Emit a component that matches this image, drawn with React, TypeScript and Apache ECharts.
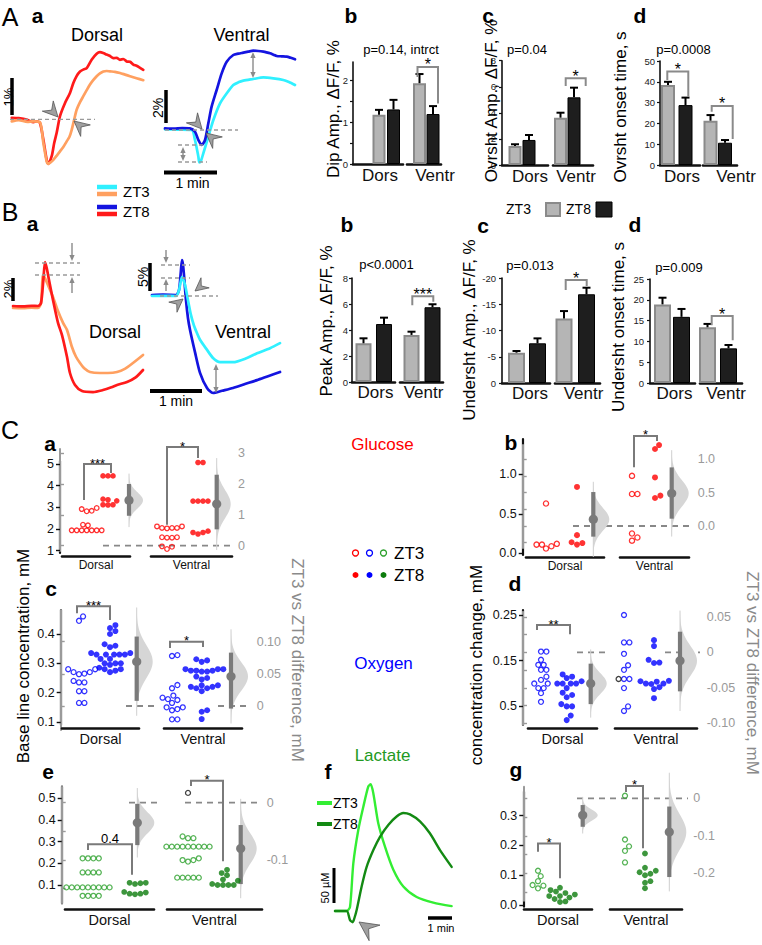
import React, { useEffect, useRef } from 'react';
import * as echarts from 'echarts';

const FF = '"Liberation Sans", Arial, Helvetica, sans-serif';

// ======================= DATA =======================
// A a — ΔF/F traces, [time (s), ΔF/F (%)]
const aDorsalZT8 = [[2,0.03],[10,0.02],[20,-0.02],[27,-0.08],[31,-0.06],[34.6,-0.1],[38.5,-0.52],[42.3,-1.02],[44.2,-1.12],[48.1,-0.93],[51,-0.6],[53.8,-0.35],[57.7,0.07],[63.5,0.4],[69.2,0.65],[73.1,0.9],[77,1.08],[80.8,1.19],[85,1.24],[88.5,1.27],[94.2,1.48],[100,1.63],[103.8,1.67],[107.5,1.65],[111.5,1.61],[115,1.58],[119.2,1.52],[123,1.53],[126.9,1.48],[130.8,1.5],[134.6,1.44],[138.5,1.43],[142.3,1.36],[146,1.33],[150,1.28],[153.8,1.23]];
const aDorsalZT3 = [[2,-0.06],[10,-0.03],[20,-0.07],[27,-0.06],[34.6,-0.08],[38.5,-0.6],[42.3,-1.06],[44.2,-1.12],[47,-1.08],[50,-1.02],[53.8,-0.92],[57.7,-0.81],[61.5,-0.7],[65.4,-0.56],[68.5,-0.45],[71.2,-0.27],[74,-0.02],[76.9,0.23],[80.8,0.42],[84.6,0.57],[88.5,0.72],[92.3,0.86],[96,0.97],[100,1.07],[103.8,1.14],[107.7,1.19],[111.5,1.2],[115.4,1.19],[121,1.18],[126.9,1.15],[132.7,1.11],[138.5,1.07],[146,1.02],[153.8,0.97]];
const aVentralZT8 = [[0,0.1],[10,0.08],[20,0.12],[28.8,0.1],[34.6,-0.1],[38.5,-0.6],[42.3,-0.9],[46.2,-0.6],[50,0.4],[53.8,1.4],[59.6,2.4],[65.4,3.4],[71.2,4.1],[78.8,4.5],[84.6,4.58],[90.4,4.64],[96,4.7],[101.9,4.76],[107.7,4.74],[113.5,4.7],[117,4.66],[121.2,4.6],[125,4.52],[128.8,4.44],[134.6,4.42],[140.4,4.4],[145,4.33],[150,4.24]];
const aVentralZT3 = [[0,0.04],[15,0.02],[30.8,0],[34.6,-0.6],[38.5,-1.6],[39.6,-1.94],[41.5,-1.85],[44.2,-1.4],[50,-0.4],[55.8,0.6],[63.5,1.6],[71.2,2.2],[78.8,2.7],[84.6,2.86],[90.4,2.96],[101.9,3.06],[113.5,3.16],[125,3.1],[136.5,3.0],[143,2.88],[150,2.7]];
// B a
const bDorsalZT8 = [[3.5,0.09],[15,0.05],[25,0.1],[32.3,0.09],[35.8,0.36],[38.5,2.5],[40.4,4.09],[42.5,3.5],[45,2.45],[49.6,0.64],[55.4,-1.45],[60,-2.55],[65.8,-4.55],[69.2,-6.0],[75,-7.09],[83.1,-7.64],[95.8,-7.73],[107.3,-7.55],[117,-7.3],[123.5,-7.09],[135,-6.82],[145,-6.4],[153.5,-5.73]];
const bDorsalZT3 = [[3.5,-0.09],[15,-0.1],[25,-0.05],[32.3,-0.09],[35.8,0.36],[38.1,2.91],[40.5,2.6],[43.8,2.0],[49.6,0.91],[55,-0.3],[61.2,-1.45],[65.8,-2.09],[71.5,-3.64],[76,-4.5],[80.8,-5.09],[86,-5.6],[92.3,-5.91],[103.8,-6.0],[113,-6.0],[123.5,-5.91],[133,-5.6],[141.9,-5.09],[153.5,-4.36]];
const bVentralZT8 = [[2.3,0],[15,0.05],[30,0],[33.5,0.89],[35.5,4],[36.9,6.25],[38,5.5],[39.2,3.57],[41.5,-0.89],[43.8,-4.11],[46.2,-6.25],[51.9,-10.2],[57.7,-13.9],[65.8,-16.6],[72.7,-17.5],[83.1,-17.1],[95.8,-16.6],[109.6,-15.9],[123.5,-15.2],[136.2,-14.5],[150,-13.75]];
const bVentralZT3 = [[2.3,-0.18],[15,-0.15],[30,-0.18],[33.5,0.89],[36.9,3.2],[40.4,1.8],[43.8,-0.9],[47.3,-3.6],[50.8,-5.5],[54.2,-6.8],[57.7,-8.0],[65.8,-9.8],[72.7,-11.25],[80.8,-12.0],[95.8,-12.0],[111.9,-11.25],[123.5,-10.4],[138.5,-9.5],[150,-8.6]];
// C f — lactate traces, [time (s), µM]
const fLactateZT3 = [[0,0],[30,0],[38.6,6],[47.1,68],[60,116],[72.9,149],[85.7,178],[91.7,181],[98.6,168],[111.4,125],[128.5,92],[150,59],[175.7,35],[210,20],[252.8,12],[300,7]];
const fLactateZT8 = [[0,0],[30,0],[38.6,-13],[45.4,-16],[50,-10],[55.7,1.4],[68.5,35],[81.4,63],[98.6,87],[115.7,106],[137,123],[158.5,135],[175.7,140],[192.8,138],[218.5,128],[244,111],[270,87],[300,63]];

// Bar charts — rows: [Dors, Ventr], columns: [ZT3, ZT8]
const barGroups = ['Dors', 'Ventr'];
const dipAmpMean = [[1.18, 1.31], [1.94, 1.2]];
const dipAmpSem = [[0.12, 0.23], [0.22, 0.19]];
const ovrshtAmpMean = [[1.46, 1.92], [3.63, 5.19]];
const ovrshtAmpSem = [[0.13, 0.38], [0.38, 0.74]];
const ovrshtOnsetMean = [[38.5, 28.8], [21.3, 10.7]];
const ovrshtOnsetSem = [[1.5, 3.6], [2.7, 1.3]];
const peakAmpMean = [[2.98, 4.46], [3.62, 5.75]];
const peakAmpSem = [[0.38, 0.49], [0.25, 0.23]];
const underAmpMean = [[-5.77, -7.56], [-12.3, -16.9]];
const underAmpSem = [[0.33, 0.94], [1.4, 1.25]];
const underOnsetMean = [[18.9, 15.9], [13.4, 8.33]];
const underOnsetSem = [[1.6, 1.9], [0.8, 0.8]];
const barPValues = ['p=0.14, intrct', 'p=0.04', 'p=0.0008', 'p<0.0001', 'p=0.013', 'p=0.009'];
const barYLabels = ['Dip Amp., ΔF/F, %', 'Ovrsht Amp., ΔF/F, %', 'Ovrsht onset time, s', 'Peak Amp., ΔF/F, %', 'Undersht Amp., ΔF/F, %', 'Undersht onset time, s'];
const dipTicks = [0, 0.5, 1, 1.5, 2];
const dipTickLabels = [0, 1, 2];
const ampTicks8 = [0, 2, 4, 6, 8];
const onsetTicks50 = [0, 10, 20, 30, 40, 50];
const underAmpTicks = [0, -5, -10, -15, -20];
const onsetTicks25 = [0, 5, 10, 15, 20, 25];

// C — concentrations (mM)
const regionNames = ['Dorsal', 'Ventral'];
const glucoseBaseDorsalZT3 = [2.97, 2.92, 2.84, 2.82, 2.2, 2.17, 1.94, 1.94, 1.94, 1.94, 1.94, 1.94, 1.94];
const glucoseBaseDorsalZT8 = [4.45, 4.45, 4.45, 3.38, 3.35, 3.3, 3.12, 3.12, 3.11];
const glucoseBaseVentralZT3 = [2.12, 2.12, 2.05, 2.05, 2.05, 2.03, 1.62, 1.62, 1.6, 1.6, 1.2, 1.18, 1.08];
const glucoseBaseVentralZT8 = [5.07, 5.07, 3.29, 3.29, 3.29, 3.29, 1.9, 1.84, 1.77, 1.84];
const glucoseBaseDiff = [[1.47, 0.97, 2.0], [1.35, 0.53, 2.3]]; // [mean, CI low, CI high]
const glucoseChgDorsalZT3 = [0.63, 0.12, 0.11, 0.11, 0.09, 0.06];
const glucoseChgDorsalZT8 = [0.84, 0.23, 0.14, 0.13, 0.11];
const glucoseChgVentralZT3 = [0.98, 0.75, 0.75, 0.25, 0.2, 0.16];
const glucoseChgVentralZT8 = [1.37, 1.32, 0.96, 0.73, 0.7];
const glucoseChgDiff = [[0.1, -0.16, 0.51], [0.49, 0.11, 0.88]];
const o2BaseDorsalZT3 = [0.46, 0.445, 0.28, 0.28, 0.27, 0.27, 0.265, 0.263, 0.24, 0.235, 0.235, 0.205, 0.205, 0.165, 0.165];
const o2BaseDorsalZT8 = [0.43, 0.42, 0.41, 0.4, 0.365, 0.36, 0.355, 0.335, 0.335, 0.33, 0.33, 0.33, 0.33, 0.33, 0.315, 0.315, 0.3, 0.295, 0.3, 0.3, 0.285, 0.275, 0.27, 0.28, 0.28];
const o2BaseVentralZT3 = [0.328, 0.325, 0.226, 0.215, 0.19, 0.183, 0.178, 0.175, 0.165, 0.15, 0.15, 0.144, 0.14, 0.109, 0.109];
const o2BaseVentralZT8 = [0.314, 0.31, 0.305, 0.28, 0.28, 0.275, 0.275, 0.272, 0.272, 0.275, 0.28, 0.255, 0.25, 0.245, 0.225, 0.22, 0.215, 0.215, 0.22, 0.225, 0.205, 0.14, 0.135, 0.11];
const o2BaseDiff = [[0.069, 0.008, 0.108], [0.046, -0.004, 0.083]];
const o2ChgDorsalZT3 = [0.17, 0.17, 0.152, 0.141, 0.141, 0.13, 0.13, 0.115, 0.108, 0.1, 0.1, 0.09, 0.09, 0.079, 0.06];
const o2ChgDorsalZT8 = [0.12, 0.115, 0.112, 0.105, 0.1, 0.1, 0.1, 0.1, 0.09, 0.08, 0.075, 0.07, 0.055, 0.05, 0.05, 0.03, 0.02];
const o2ChgVentralZT3 = [0.25, 0.19, 0.19, 0.165, 0.14, 0.13, 0.11, 0.11, 0.09, 0.05, 0.04];
const o2ChgVentralZT3Outlier = [0.11];
const o2ChgVentralZT8 = [0.195, 0.182, 0.152, 0.146, 0.145, 0.106, 0.105, 0.104, 0.1, 0.1, 0.099, 0.092, 0.088, 0.068];
const o2ChgDiff = [[-0.044, -0.073, -0.016], [-0.012, -0.055, 0.029]];
const lacBaseDorsalZT3 = [0.223, 0.223, 0.223, 0.223, 0.158, 0.158, 0.158, 0.158, 0.089, 0.089, 0.089, 0.089, 0.089, 0.089, 0.089, 0.089, 0.089, 0.05, 0.05, 0.05, 0.05];
const lacBaseDorsalZT8 = [0.11, 0.11, 0.108, 0.105, 0.065, 0.06, 0.057, 0.06, 0.068];
const lacBaseVentralZT3 = [0.324, 0.316, 0.316, 0.277, 0.277, 0.277, 0.277, 0.277, 0.277, 0.277, 0.277, 0.277, 0.223, 0.215, 0.215, 0.208, 0.134, 0.134, 0.134, 0.134, 0.134];
const lacBaseVentralZT3Outlier = [0.525];
const lacBaseVentralZT8 = [0.17, 0.155, 0.145, 0.125, 0.12, 0.105, 0.1, 0.1, 0.1, 0.1];
const lacBaseDiff = [[-0.035, -0.074, -0.002], [-0.08, -0.142, -0.039]];
const lacChgDorsalZT3 = [0.115, 0.097, 0.08, 0.067, 0.065, 0.056];
const lacChgDorsalZT8 = [0.058, 0.05, 0.045, 0.04, 0.035, 0.03, 0.03, 0.025, 0.02, 0.012, 0.01];
const lacChgVentralZT3 = [0.367, 0.22, 0.197, 0.182, 0.143];
const lacChgVentralZT8 = [0.173, 0.125, 0.115, 0.11, 0.105, 0.1, 0.08, 0.075, 0.056];
const lacChgDiff = [[-0.045, -0.076, -0.018], [-0.09, -0.21, -0.022]];

// C axis ticks and labels
const cTicks = {
  a: { main: [1, 2, 3, 4, 5], mainLab: ['1', '2', '3', '4', '5'], diff: [0, 1, 2, 3], diffLv: [0, 1, 2, 3], diffLab: ['0', '1', '2', '3'] },
  b: { main: [0, 0.5, 1], mainLab: ['0.0', '0.5', '1.0'], diff: [-0.25, 0, 0.25, 0.5, 0.75, 1], diffLv: [0, 0.5, 1], diffLab: ['0.0', '0.5', '1.0'] },
  c: { main: [0.1, 0.2, 0.3, 0.4], mainLab: ['0.1', '0.2', '0.3', '0.4'], diff: [0, 0.05, 0.1, 0.15], diffLv: [0, 0.05, 0.1, 0.15], diffLab: ['0', '0.05', '0.10', '0.15'] },
  d: { main: [0.05, 0.15, 0.25], mainLab: ['0.5', '0.15', '0.25'], diff: [-0.1, -0.075, -0.05, -0.025, 0, 0.025, 0.05], diffLv: [-0.1, -0.05, 0, 0.05], diffLab: ['-0.10', '-0.05', '0', '0.05'] },
  e: { main: [0.1, 0.2, 0.3, 0.4, 0.5], mainLab: ['0.1', '0.2', '0.3', '0.4', '0.5'], diff: [-0.15, -0.1, -0.05, 0], diffLv: [-0.1, 0], diffLab: ['-0.1', '0'] },
  g: { main: [0, 0.1, 0.2, 0.3], mainLab: ['0.0', '0.1', '0.2', '0.3'], diff: [-0.25, -0.2, -0.15, -0.1, -0.05, 0], diffLv: [-0.2, -0.1, 0], diffLab: ['-0.2', '-0.1', '0'] },
};

// ======================= STYLE =======================
const RED = '#ff0000', BLUE = '#0000ff', GREEN_O = '#2ca02c', GREEN_F = '#0c7c0c';
const T_RED = '#ff1a1a', T_ORANGE = '#ffa060', T_BLUE = '#1414e0', T_CYAN = '#30f0ff';
const BAR_GRAY = { color: '#b5b5b5', borderColor: '#8a8a8a', borderWidth: 2 };
const BAR_BLACK = { color: '#1e1e1e', borderColor: '#000', borderWidth: 1 };

// ======================= HELPERS =======================
const calK = (c: number[]) => (c[3] - c[1]) / (c[2] - c[0]);
const valAt = (c: number[], p: number) => c[0] + (p - c[1]) / calK(c);
const lab = (vals: number[], labels: any[], v: number) => {
  const i = vals.findIndex((t) => Math.abs(t - v) < 1e-7);
  return i >= 0 ? String(labels[i]) : '';
};

function swarmOffsets(values: number[], ppu: number, d: number) {
  const order = values.map((_, i) => i).sort((a, b) => values[a] - values[b]);
  const placed: number[][] = [];
  const out = new Array(values.length).fill(0);
  const step = d / 4;
  for (const i of order) {
    const y = values[i] * ppu;
    let chosen = 0;
    for (let s = 0; s < 600; s++) {
      const m = Math.ceil(s / 2);
      const x = s === 0 ? 0 : (s % 2 === 1 ? m : -m) * step;
      let ok = true;
      for (const p of placed) {
        const dx = x - p[0], dy = y - p[1];
        if (dx * dx + dy * dy < d * d - 1e-6) { ok = false; break; }
      }
      if (ok) { chosen = x; break; }
    }
    placed.push([chosen, y]);
    out[i] = chosen;
  }
  return out;
}

const bracketRenderer = (texts: string[], dys: number[], fontSize: number, color: string) => (params: any, api: any) => {
  const xa = api.value(0), xb = api.value(1), t = api.value(2), ya = api.value(3), yb = api.value(4);
  const p1 = api.coord([xa, ya]), p2 = api.coord([xa, t]), p3 = api.coord([xb, t]), p4 = api.coord([xb, yb]);
  const txt = texts[params.dataIndex];
  return {
    type: 'group',
    children: [
      { type: 'polyline', shape: { points: [p1, p2, p3, p4] }, style: { stroke: color, lineWidth: 2, fill: 'none' } },
      { type: 'text', x: (p2[0] + p3[0]) / 2, y: p2[1] - dys[params.dataIndex], style: { text: txt, font: `${fontSize}px ${FF}`, fill: '#000', align: 'center', verticalAlign: 'middle', textAlign: 'center', textVerticalAlign: 'middle' } },
    ],
  };
};

const violinRenderer = (widths: number[]) => (params: any, api: any) => {
  const x = api.value(0), m = api.value(1), lo = api.value(2), hi = api.value(3);
  const w = widths[params.dataIndex];
  const sd = Math.abs(hi - lo) / 3.92;
  const Z = 3.3, N = 48;
  const pts: number[][] = [];
  const cBot = api.coord([x, m - Z * sd]);
  const cTop = api.coord([x, m + Z * sd]);
  pts.push([cBot[0], cBot[1]]);
  for (let i = 0; i <= N; i++) {
    const z = -Z + (2 * Z * i) / N;
    const c = api.coord([x, m + z * sd]);
    pts.push([c[0] + w * Math.exp(-0.5 * z * z), c[1]]);
  }
  pts.push([cTop[0], cTop[1]]);
  const cm = api.coord([x, m]), cl = api.coord([x, lo]), ch = api.coord([x, hi]);
  return {
    type: 'group',
    children: [
      { type: 'polygon', shape: { points: pts }, style: { fill: '#d6d6d6', stroke: 'none' } },
      { type: 'line', shape: { x1: cBot[0], y1: cBot[1], x2: cTop[0], y2: cTop[1] }, style: { stroke: '#d0d0d0', lineWidth: 1 } },
      { type: 'line', shape: { x1: cl[0], y1: cl[1], x2: ch[0], y2: ch[1] }, style: { stroke: '#7a7a7a', lineWidth: 4.2 } },
      { type: 'circle', shape: { cx: cm[0], cy: cm[1], r: 4.6 }, style: { fill: '#7a7a7a' } },
    ],
  };
};

// ======================= OPTION =======================
function buildOption() {
  const grid: any[] = [], xAxis: any[] = [], yAxis: any[] = [], series: any[] = [], G: any[] = [];
  const addGrid = (left: number, top: number, width: number, height: number) => { grid.push({ left, top, width, height, containLabel: false }); return grid.length - 1; };
  const addX = (o: any) => { xAxis.push(o); return xAxis.length - 1; };
  const addY = (o: any) => { yAxis.push(o); return yAxis.length - 1; };

  // ---------- traces ----------
  const tracePanel = (left: number, top: number, width: number, height: number, xmax: number, ymin: number, ymax: number, lines: any[]) => {
    const g = addGrid(left, top, width, height);
    const xi = addX({ type: 'value', gridIndex: g, min: 0, max: xmax, show: false });
    const yi = addY({ type: 'value', gridIndex: g, min: ymin, max: ymax, show: false });
    lines.forEach((l) => series.push({ type: 'line', name: l.name, xAxisIndex: xi, yAxisIndex: yi, data: l.data, symbol: 'none', smooth: 0.25, clip: false, silent: true, z: 2, lineStyle: { color: l.color, width: l.width || 2.7, cap: 'round', join: 'round' } }));
  };
  tracePanel(10, 39, 156, 140, 180, -1.5, 2.0, [{ name: 'ZT8', data: aDorsalZT8, color: T_RED }, { name: 'ZT3', data: aDorsalZT3, color: T_ORANGE }]);
  tracePanel(165, 40, 156, 140, 180, -3.0, 5.4, [{ name: 'ZT3', data: aVentralZT3, color: T_CYAN }, { name: 'ZT8', data: aVentralZT8, color: T_BLUE }]);
  tracePanel(10, 241, 156, 165, 180, -9, 6, [{ name: 'ZT3', data: bDorsalZT3, color: T_ORANGE }, { name: 'ZT8', data: bDorsalZT8, color: T_RED }]);
  tracePanel(150, 239, 156, 168, 180, -20, 10, [{ name: 'ZT8', data: bVentralZT8, color: T_BLUE }, { name: 'ZT3', data: bVentralZT3, color: T_CYAN }]);
  tracePanel(335, 778, 124.44, 154, 320, -30, 190, [{ name: 'ZT3', data: fLactateZT3, color: '#33ee33', width: 2.4 }, { name: 'ZT8', data: fLactateZT8, color: '#138a13', width: 2.4 }]);

  // ---------- bar charts ----------
  const barPanels = [
    { mean: dipAmpMean, sem: dipAmpSem, axisX: 352, base: 164, ppu: 41.65, ymax: 2.45, ticks: dipTicks, lv: dipTickLabels, segs: [[353, 403], [407, 441]], centers: [[379, 393.5], [419.5, 433]], barW: 13, shift: [2, 11], gap: 3,
      brackets: [{ g: 1, x1: 417.5, x2: 438, top: 2.33, y1: 2.09, y2: 1.45, text: '*' }] },
    { mean: ovrshtAmpMean, sem: ovrshtAmpSem, axisX: 500, base: 165, ppu: 13.04, ymax: 8, ticks: ampTicks8, lv: ampTicks8, segs: [[502, 548], [553, 593]], centers: [[515, 529], [560.5, 574]], barW: 13, shift: [5, 3], gap: 3,
      brackets: [{ g: 1, x1: 565.7, x2: 585.7, top: 6.65, y1: 6.05, y2: 6.05, text: '*' }] },
    { mean: ovrshtOnsetMean, sem: ovrshtOnsetSem, axisX: 659, base: 165, ppu: 2.08, ymax: 50, ticks: onsetTicks50, lv: onsetTicks50, segs: [[660, 700], [703, 737]], centers: [[668, 685.5], [710.5, 725]], barW: 14, shift: [2, 16], gap: 3,
      brackets: [{ g: 0, x1: 667.3, x2: 688.3, top: 44.9, y1: 40.9, y2: 32.8, text: '*' }, { g: 1, x1: 711.7, x2: 732.7, top: 28.4, y1: 25.6, y2: 12.5, text: '*' }] },
    { mean: peakAmpMean, sem: peakAmpSem, axisX: 352, base: 382, ppu: 13, ymax: 8, ticks: ampTicks8, lv: ampTicks8, segs: [[352, 395], [400, 443]], centers: [[363.5, 384], [411.5, 432.5]], barW: 16, shift: [2, 2], gap: 2,
      brackets: [{ g: 1, x1: 412.3, x2: 433.3, top: 6.6, y1: 5.9, y2: 6.18, text: '***' }] },
    { mean: underAmpMean, sem: underAmpSem, axisX: 500, base: 383, ppu: 5.25, ymax: 20, inverse: true, ticks: underAmpTicks, lv: underAmpTicks, segs: [[502, 550], [555, 600]], centers: [[516.5, 537.5], [564, 586.5]], barW: 17, shift: [4, 6], gap: 2,
      brackets: [{ g: 1, x1: 565.7, x2: 586.7, top: -19.6, y1: -17.7, y2: -18.5, text: '*' }] },
    { mean: underOnsetMean, sem: underOnsetSem, axisX: 648, base: 383, ppu: 4.16, ymax: 25, ticks: onsetTicks25, lv: onsetTicks25, segs: [[650, 695], [700, 742]], centers: [[662.5, 681.5], [707.5, 728.5]], barW: 17, shift: [2, 5], gap: 2,
      brackets: [{ g: 1, x1: 711.7, x2: 732.7, top: 16.1, y1: 13.9, y2: 10.3, text: '*' }] },
  ];
  barPanels.forEach((P: any) => {
    const top = P.base - P.ymax * P.ppu;
    const h = P.ymax * P.ppu;
    P.segs.forEach((seg: number[], gi: number) => {
      const [x1, x2] = seg;
      const g = addGrid(x1, top, x2 - x1, h);
      const xi = addX({ type: 'value', gridIndex: g, min: 0, max: x2 - x1, axisLine: { show: true, onZero: false, lineStyle: { color: '#111', width: 2.6 } }, axisTick: { show: false }, axisLabel: { show: false }, splitLine: { show: false },
        name: barGroups[gi], nameLocation: 'middle', nameGap: P.gap, nameTextStyle: { fontSize: 17, color: '#111', fontFamily: FF, verticalAlign: 'top', padding: [0, 0, 0, 2 * P.shift[gi]] } });
      const yA: any = { type: 'value', gridIndex: g, min: P.inverse ? -P.ymax : 0, max: P.inverse ? 0 : P.ymax, inverse: !!P.inverse, splitLine: { show: false } };
      if (gi === 0) {
        Object.assign(yA, { offset: x1 - P.axisX, axisLine: { show: true, lineStyle: { color: '#111', width: 1.6 } }, axisTick: { show: true, length: 3, customValues: P.ticks, lineStyle: { color: '#111', width: 1.2 } },
          axisLabel: { show: true, customValues: P.lv, formatter: (v: number) => lab(P.lv, P.lv, v), fontSize: 9.5, color: '#222', margin: 4, fontFamily: FF } });
      } else yA.show = false;
      const yi = addY(yA);
      series.push({ type: 'bar', xAxisIndex: xi, yAxisIndex: yi, barWidth: P.barW, silent: true, z: 2,
        data: [0, 1].map((k) => ({ value: [P.centers[gi][k] - x1, P.mean[gi][k]], itemStyle: k === 0 ? BAR_GRAY : BAR_BLACK })) });
      series.push({ type: 'custom', xAxisIndex: xi, yAxisIndex: yi, silent: true, z: 3,
        data: [0, 1].map((k) => [P.centers[gi][k] - x1, P.mean[gi][k], P.sem[gi][k]]),
        renderItem: (params: any, api: any) => {
          const x = api.value(0), m = api.value(1), s = api.value(2);
          const a = api.coord([x, m]), b = api.coord([x, m + Math.sign(m) * s]);
          return { type: 'group', children: [
            { type: 'line', shape: { x1: a[0], y1: a[1], x2: b[0], y2: b[1] }, style: { stroke: '#000', lineWidth: 2 } },
            { type: 'line', shape: { x1: b[0] - 4, y1: b[1], x2: b[0] + 4, y2: b[1] }, style: { stroke: '#000', lineWidth: 2 } },
          ] };
        } });
      const brs = P.brackets.filter((b: any) => b.g === gi);
      if (brs.length) {
        series.push({ type: 'custom', xAxisIndex: xi, yAxisIndex: yi, silent: true, z: 4,
          data: brs.map((b: any) => [b.x1 - x1, b.x2 - x1, b.top, b.y1, b.y2]),
          renderItem: bracketRenderer(brs.map((b: any) => b.text), brs.map(() => 2), 16, '#8a8a8a') });
      }
    });
  });

  // ---------- C estimation plots ----------
  const cPanels: any[] = [
    { t: cTicks.a, left: 60, width: 173, mainTop: 461, mainBottom: 553, mainCal: [5, 464, 1, 550.7], diffTop: 449, diffBottom: 551, diffCal: [0, 545.7, 2, 484],
      groups: [{ vals: glucoseBaseDorsalZT3, cx: 86.7, filled: false, color: RED }, { vals: glucoseBaseDorsalZT8, cx: 108, filled: true, color: RED }, { vals: glucoseBaseVentralZT3, cx: 167, filled: false, color: RED }, { vals: glucoseBaseVentralZT8, cx: 198, filled: true, color: RED }],
      diffs: glucoseBaseDiff, diffX: [129, 216.7], diffW: [14, 14], zeros: [[103, 230]],
      brackets: [{ x1: 84, x2: 111, top: 5.0, y1: 3.34, y2: 4.59, text: '***' }, { x1: 167, x2: 198, top: 5.78, y1: 2.2, y2: 5.28, text: '*' }],
      segY: 556, segs: [[62, 130], [151, 232]], segFont: 12, dotD: 5, sizeOpen: 4.6, sizeFilled: 5.6 },
    { t: cTicks.b, left: 522.7, width: 170, mainTop: 439, mainBottom: 555, mainCal: [1, 474.3, 0, 553.3], diffTop: 445, diffBottom: 548, diffCal: [0, 526, 0.5, 492.7],
      groups: [{ vals: glucoseChgDorsalZT3, cx: 546, filled: false, color: RED }, { vals: glucoseChgDorsalZT8, cx: 577, filled: true, color: RED }, { vals: glucoseChgVentralZT3, cx: 632, filled: false, color: RED }, { vals: glucoseChgVentralZT8, cx: 655, filled: true, color: RED }],
      diffs: glucoseChgDiff, diffX: [593.3, 671.7], diffW: [16, 17], zeros: [[573, 690]],
      brackets: [{ x1: 634, x2: 657, top: 1.485, y1: 1.09, y2: 1.42, text: '*' }],
      segY: 557.3, segs: [[526, 604], [620, 689]], segFont: 12, dotD: 5.4, sizeOpen: 5.2, sizeFilled: 6 },
    { t: cTicks.c, left: 60.7, width: 191, mainTop: 610, mainBottom: 725, mainCal: [0.4, 634, 0.1, 722], diffTop: 610, diffBottom: 730, diffCal: [0, 706, 0.1, 641.7],
      groups: [{ vals: o2BaseDorsalZT3, cx: 79, filled: false, color: BLUE }, { vals: o2BaseDorsalZT8, cx: 110, filled: true, color: BLUE }, { vals: o2BaseVentralZT3, cx: 172, filled: false, color: BLUE }, { vals: o2BaseVentralZT8, cx: 201.7, filled: true, color: BLUE }],
      diffs: o2BaseDiff, diffX: [136.7, 231], diffW: [16, 17], zeros: [[126, 157], [218, 250]],
      brackets: [{ x1: 77, x2: 110, top: 0.495, y1: 0.471, y2: 0.448, text: '***' }, { x1: 170, x2: 203, top: 0.374, y1: 0.352, y2: 0.356, text: '*' }],
      segY: 728.7, segs: [[62, 139], [164, 242]], segFont: 14.5, dotD: 5.4, sizeOpen: 5, sizeFilled: 6 },
    { t: cTicks.d, left: 523, width: 178.7, mainTop: 610, mainBottom: 725, mainCal: [0.25, 615, 0.15, 660.7], diffTop: 611.7, diffBottom: 725, diffCal: [0, 652.3, -0.1, 723.3],
      groups: [{ vals: o2ChgDorsalZT3, cx: 541, filled: false, color: BLUE }, { vals: o2ChgDorsalZT8, cx: 566.7, filled: true, color: BLUE }, { vals: o2ChgVentralZT3, outliers: o2ChgVentralZT3Outlier, cx: 624, filled: false, color: BLUE }, { vals: o2ChgVentralZT8, cx: 654, filled: true, color: BLUE }],
      diffs: o2ChgDiff, diffX: [590.7, 680], diffW: [16, 17], zeros: [[577, 607], [665, 700]],
      brackets: [{ x1: 537, x2: 570, top: 0.228, y1: 0.217, y2: 0.208, text: '**' }],
      segY: 728, segs: [[528, 597], [615, 697]], segFont: 14.5, dotD: 5.4, sizeOpen: 5, sizeFilled: 6 },
    { t: cTicks.e, left: 61.7, width: 200, mainTop: 786.7, mainBottom: 903.3, mainCal: [0.5, 798.3, 0.1, 885], diffTop: 786.7, diffBottom: 903.3, diffCal: [0, 802.7, -0.1, 860],
      groups: [{ vals: lacBaseDorsalZT3, cx: 88, filled: false, color: GREEN_O }, { vals: lacBaseDorsalZT8, cx: 135, filled: true, color: GREEN_F }, { vals: lacBaseVentralZT3, outliers: lacBaseVentralZT3Outlier, cx: 188, filled: false, color: GREEN_O }, { vals: lacBaseVentralZT8, cx: 223, filled: true, color: GREEN_F }],
      diffs: lacBaseDiff, diffX: [137.3, 240.7], diffW: [17, 16], zeros: [[129, 157], [185, 257]],
      brackets: [{ x1: 88, x2: 132, top: 0.288, y1: 0.262, y2: 0.147, text: '0.4', dy: 6 }, { x1: 191, x2: 223, top: 0.581, y1: 0.557, y2: 0.21, text: '*' }],
      segY: 909.3, segs: [[65, 154], [167, 262]], segFont: 14.5, dotD: 5.4, sizeOpen: 5, sizeFilled: 5.8 },
    { t: cTicks.g, left: 523.3, width: 165, mainTop: 791.7, mainBottom: 906.7, mainCal: [0.3, 815.7, 0, 905], diffTop: 786.7, diffBottom: 900.7, diffCal: [0, 798.3, -0.2, 873.3],
      groups: [{ vals: lacChgDorsalZT3, cx: 538, filled: false, color: GREEN_O }, { vals: lacChgDorsalZT8, cx: 560, filled: true, color: GREEN_F }, { vals: lacChgVentralZT3, cx: 625, filled: false, color: GREEN_O }, { vals: lacChgVentralZT8, cx: 645, filled: true, color: GREEN_F }],
      diffs: lacChgDiff, diffX: [582.7, 669.3], diffW: [15, 17], zeros: [[577, 688]],
      brackets: [{ x1: 538, x2: 560, top: 0.207, y1: 0.179, y2: 0.09, text: '*' }, { x1: 626, x2: 643, top: 0.4, y1: 0.38, y2: 0.191, text: '*' }],
      segY: 909.3, segs: [[524, 592], [610, 682]], segFont: 14.5, dotD: 5.4, sizeOpen: 5, sizeFilled: 5.8 },
  ];

  cPanels.forEach((P) => {
    const L = P.left;
    const g = addGrid(L, P.mainTop, P.width, P.mainBottom - P.mainTop);
    const xi = addX({ type: 'value', gridIndex: g, min: 0, max: P.width, show: false });
    const yi = addY({ type: 'value', gridIndex: g, position: 'left', min: valAt(P.mainCal, P.mainBottom), max: valAt(P.mainCal, P.mainTop), splitLine: { show: false },
      axisLine: { show: true, lineStyle: { color: '#111', width: 2.2 } },
      axisTick: { show: true, length: 4, customValues: P.t.main, lineStyle: { color: '#111', width: 1.4 } },
      axisLabel: { show: true, customValues: P.t.main, formatter: (v: number) => lab(P.t.main, P.t.mainLab, v), fontSize: 12.5, color: '#111', margin: 6, fontFamily: FF } });
    const gd = addGrid(L, P.diffTop, P.width, P.diffBottom - P.diffTop);
    const xd = addX({ type: 'value', gridIndex: gd, min: 0, max: P.width, show: false });
    const yd = addY({ type: 'value', gridIndex: gd, position: 'right', min: valAt(P.diffCal, P.diffBottom), max: valAt(P.diffCal, P.diffTop), splitLine: { show: false },
      axisLine: { show: true, lineStyle: { color: '#9a9a9a', width: 2 } },
      axisTick: { show: true, length: 4, customValues: P.t.diff, lineStyle: { color: '#9a9a9a', width: 1.4 } },
      axisLabel: { show: true, customValues: P.t.diffLv, formatter: (v: number) => lab(P.t.diffLv, P.t.diffLab, v), fontSize: 12.5, color: '#9a9a9a', margin: 5, fontFamily: FF } });
    series.push({ type: 'custom', xAxisIndex: xd, yAxisIndex: yd, silent: true, z: 1,
      data: P.zeros.map((z: number[]) => [z[0] - L, z[1] - L]),
      renderItem: (params: any, api: any) => {
        const a = api.coord([api.value(0), 0]), b = api.coord([api.value(1), 0]);
        return { type: 'line', shape: { x1: a[0], y1: a[1], x2: b[0], y2: b[1] }, style: { stroke: '#888', lineWidth: 1.8, lineDash: [6, 5] } };
      } });
    series.push({ type: 'custom', xAxisIndex: xd, yAxisIndex: yd, silent: true, z: 2,
      data: P.diffs.map((d: number[], i: number) => [P.diffX[i] - L, d[0], d[1], d[2]]),
      renderItem: violinRenderer(P.diffW) });
    const ppu = Math.abs(calK(P.mainCal));
    P.groups.forEach((gr: any) => {
      const outs = gr.outliers || [];
      const vals = gr.vals.concat(outs);
      const off = swarmOffsets(vals, ppu, P.dotD);
      const data = vals.map((v: number, i: number) => {
        const item: any = { value: [gr.cx - L + off[i], v] };
        if (i >= gr.vals.length) item.itemStyle = { color: 'rgba(0,0,0,0)', borderColor: '#111', borderWidth: 1.3 };
        return item;
      });
      series.push({ type: 'scatter', xAxisIndex: xi, yAxisIndex: yi, data, symbol: 'circle', symbolSize: gr.filled ? P.sizeFilled : P.sizeOpen, clip: false, silent: true, z: 3,
        itemStyle: gr.filled ? { color: gr.color } : { color: 'rgba(0,0,0,0)', borderColor: gr.color, borderWidth: 1.3 } });
    });
    series.push({ type: 'custom', xAxisIndex: xi, yAxisIndex: yi, silent: true, z: 4,
      data: P.brackets.map((b: any) => [b.x1 - L, b.x2 - L, b.top, b.y1, b.y2]),
      renderItem: bracketRenderer(P.brackets.map((b: any) => b.text), P.brackets.map((b: any) => (b.dy != null ? b.dy : 1)), 13, '#7a7a7a') });
    P.segs.forEach((s: number[], k: number) => {
      const gs = addGrid(s[0], P.segY - 1, s[1] - s[0], 1);
      addX({ type: 'category', gridIndex: gs, data: [regionNames[k]], axisLine: { show: true, lineStyle: { color: '#111', width: 2.6 } }, axisTick: { show: false }, splitLine: { show: false },
        axisLabel: { show: true, fontSize: P.segFont, color: '#111', margin: 3, fontFamily: FF } });
      addY({ type: 'value', gridIndex: gs, show: false, min: 0, max: 1 });
    });
  });

  // ---------- graphic annotations ----------
  const txt = (text: string, x: number, y: number, size: number, o: any = {}) => G.push({ type: 'text', x, y, rotation: o.rot || 0, z: 50, silent: true,
    style: { text, fill: o.color || '#000', font: `${o.bold ? 'bold ' : ''}${size}px ${FF}`, align: o.align || 'center', verticalAlign: 'middle', textAlign: o.align || 'center', textVerticalAlign: 'middle' } });
  const ln = (x1: number, y1: number, x2: number, y2: number, color = '#000', w = 1, dash?: number[]) => G.push({ type: 'line', z: 40, silent: true, shape: { x1, y1, x2, y2 }, style: { stroke: color, lineWidth: w, lineDash: dash } });
  const dl = (x1: number, y: number, x2: number) => ln(x1, y, x2, y, '#9a9a9a', 1.3, [4, 3]);
  const head = (x: number, y: number, dir: number) => G.push({ type: 'polygon', z: 41, silent: true, shape: { points: [[x, y], [x - 2.6, y - dir * 6], [x + 2.6, y - dir * 6]] }, style: { fill: '#8a8a8a' } });
  const arrow = (x: number, from: number, tip: number) => { const dir = tip > from ? 1 : -1; ln(x, from, x, tip - dir * 5, '#8a8a8a', 1.4); head(x, tip, dir); };
  const dbl = (x: number, y1: number, y2: number) => { ln(x, y1 + 5, x, y2 - 5, '#8a8a8a', 1.4); head(x, y1, -1); head(x, y2, 1); };
  const dart = (tx: number, ty: number, deg: number, len: number) => {
    const a = (deg * Math.PI) / 180, dx = Math.cos(a), dy = Math.sin(a), px = -dy, py = dx, hw = len * 0.5;
    const bx = tx - len * dx, by = ty - len * dy, nx = tx - 0.62 * len * dx, ny = ty - 0.62 * len * dy;
    G.push({ type: 'polygon', z: 45, silent: true, shape: { points: [[tx, ty], [bx + hw * px, by + hw * py], [nx, ny], [bx - hw * px, by - hw * py]] }, style: { fill: '#a0a0a0', stroke: '#555', lineWidth: 0.8 } });
  };
  const dot = (cx: number, cy: number, color: string, filled: boolean) => G.push({ type: 'circle', z: 50, silent: true, shape: { cx, cy, r: 3 }, style: filled ? { fill: color } : { fill: 'none', stroke: color, lineWidth: 1.3 } });

  // section letters
  txt('A', 10, 17, 25); txt('a', 37.5, 15, 21, { bold: true });
  txt('b', 351, 15, 21, { bold: true }); txt('c', 488, 15, 21, { bold: true }); txt('d', 640, 15, 21, { bold: true });
  txt('B', 10, 212, 25); txt('a', 32.5, 223, 21, { bold: true });
  txt('b', 347, 224, 21, { bold: true }); txt('c', 483, 225, 21, { bold: true }); txt('d', 635, 224, 21, { bold: true });
  txt('C', 10, 430, 25);
  txt('a', 50, 443, 21, { bold: true }); txt('b', 511, 442, 21, { bold: true }); txt('c', 51, 588, 21, { bold: true }); txt('d', 515, 583, 21, { bold: true });
  txt('e', 48, 771, 21, { bold: true }); txt('f', 328, 771, 21, { bold: true }); txt('g', 516, 769, 21, { bold: true });
  // trace titles
  txt(regionNames[0], 97, 35, 18); txt(regionNames[1], 241.5, 35, 18);
  txt(regionNames[0], 115, 332, 18); txt(regionNames[1], 243, 332, 18);
  // scale bars
  ln(12, 78, 12, 115, '#000', 3.5); txt('1%', 8, 97, 13, { rot: Math.PI / 2 });
  ln(166, 90, 166, 123, '#000', 3.5); txt('2%', 158, 108, 14, { rot: Math.PI / 2 });
  ln(164, 172.5, 217, 172.5, '#000', 4); txt('1 min', 192.5, 183, 14);
  ln(13, 278, 13, 301, '#000', 3.5); txt('2%', 8.5, 289, 13, { rot: Math.PI / 2 });
  ln(150, 263, 150, 291, '#000', 3.5); txt('5%', 143, 277, 14, { rot: Math.PI / 2 });
  ln(150, 391, 202, 391, '#000', 4); txt('1 min', 176, 401, 14);
  ln(334, 868, 334, 903, '#000', 3); txt('50 µM', 325, 888, 11, { rot: Math.PI / 2 });
  ln(428, 918, 452, 918, '#000', 3.5); txt('1 min', 441, 928, 11);
  // dashed reference lines
  dl(10, 119.3, 95); dl(165, 130, 238); dl(178, 145, 205); dl(178, 162, 207);
  dl(35, 263, 80); dl(35, 275, 80); dl(161, 265, 190); dl(161, 278, 190); dl(160, 296, 218);
  // arrows
  dbl(253, 52, 78); dbl(183, 147, 161);
  arrow(72, 243, 261); arrow(72, 293, 277); arrow(166, 250, 263); arrow(166, 291, 279); dbl(216, 364, 393);
  // arrowheads
  dart(58, 117, 47, 15); dart(74, 121, 220, 15); dart(202, 129, 48, 15); dart(206, 133, 220, 15);
  dart(195, 291, 141, 13); dart(183, 299, -39, 13); dart(359, 922, 215, 19);
  // trace legend
  ln(97, 187, 117, 187, T_CYAN, 4.5); ln(97, 194, 117, 194, T_ORANGE, 4.5); txt('ZT3', 123, 191, 15, { align: 'left' });
  ln(97, 207, 117, 207, T_BLUE, 4.5); ln(97, 214, 117, 214, T_RED, 4.5); txt('ZT8', 123, 211, 15, { align: 'left' });
  // bar legend
  txt('ZT3', 518.5, 209, 14);
  G.push({ type: 'rect', z: 50, silent: true, shape: { x: 546, y: 203, width: 14, height: 13 }, style: { fill: '#b5b5b5', stroke: '#8a8a8a', lineWidth: 2 } });
  txt('ZT8', 578.5, 209, 14);
  G.push({ type: 'rect', z: 50, silent: true, shape: { x: 596, y: 202, width: 16, height: 15 }, style: { fill: '#1e1e1e', stroke: '#000', lineWidth: 1 } });
  // p values
  txt(barPValues[0], 401, 49, 13); txt(barPValues[1], 527, 49, 13); txt(barPValues[2], 683.5, 49, 13);
  txt(barPValues[3], 386.5, 264, 13); txt(barPValues[4], 530, 265, 13); txt(barPValues[5], 679, 267, 13);
  // bar y labels
  txt(barYLabels[0], 333, 109, 17, { rot: Math.PI / 2 }); txt(barYLabels[1], 491, 101, 17, { rot: Math.PI / 2 }); txt(barYLabels[2], 620, 107, 17, { rot: Math.PI / 2 });
  txt(barYLabels[3], 326, 321, 17, { rot: Math.PI / 2 }); txt(barYLabels[4], 469, 330, 17, { rot: Math.PI / 2 }); txt(barYLabels[5], 618, 327, 17, { rot: Math.PI / 2 });
  // C labels
  txt('Glucose', 382.5, 444, 17, { color: RED }); txt('Oxygen', 383.5, 663, 17, { color: BLUE }); txt('Lactate', 382.5, 755, 17, { color: '#229922' });
  dot(355.5, 553, RED, false); dot(369.5, 553, BLUE, false); dot(383.5, 553, GREEN_O, false); txt('ZT3', 394, 553, 17, { align: 'left' });
  dot(355.5, 575, RED, true); dot(369.5, 575, BLUE, true); dot(383.5, 575, GREEN_F, true); txt('ZT8', 394, 575, 17, { align: 'left' });
  txt('Base line concentration, mM', 23, 656, 17, { rot: Math.PI / 2 });
  txt('ZT3 vs ZT8 difference, mM', 297, 660, 17, { rot: -Math.PI / 2, color: '#8a8a8a' });
  txt('concentration change, mM', 476, 665, 17, { rot: Math.PI / 2 });
  txt('ZT3 vs ZT8 difference, mM', 752, 673, 17, { rot: -Math.PI / 2, color: '#8a8a8a' });
  // f legend
  ln(317, 803, 332, 803, '#33ee33', 4); txt('ZT3', 333, 803, 14, { align: 'left' });
  ln(317, 824, 332, 824, '#138a13', 4); txt('ZT8', 333, 824, 14, { align: 'left' });

  return { animation: false, backgroundColor: '#fff', textStyle: { fontFamily: FF }, grid, xAxis, yAxis, series, graphic: { elements: G } };
}

export default function App() {
  const ref = useRef<HTMLDivElement>(null);
  useEffect(() => {
    if (!ref.current) return;
    const chart = echarts.init(ref.current, undefined, { renderer: 'svg' });
    chart.setOption(buildOption() as any);
    return () => chart.dispose();
  }, []);
  return <div ref={ref} style={{ position: 'absolute', left: 0, top: 0, width: 762, height: 945, background: '#fff' }} />;
}
